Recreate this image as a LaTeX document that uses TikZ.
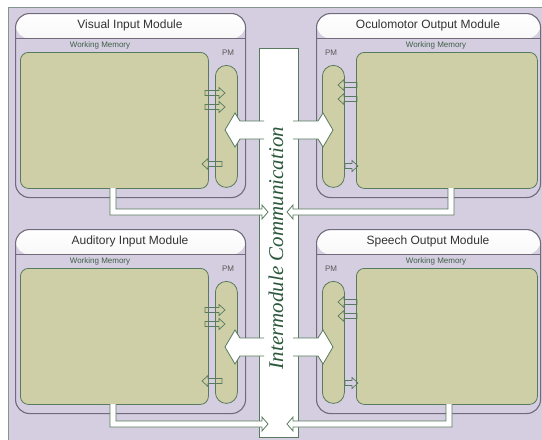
\documentclass[tikz,border=0pt]{standalone}
\usepackage{fontspec}
\setmainfont{Liberation Sans}
\newfontfamily\busfont{Liberation Serif}
\usepackage{xcolor}
\usepackage{tikz}
\usetikzlibrary{calc}

\definecolor{lavender}{RGB}{213,205,224}
\definecolor{olive}{RGB}{206,207,166}
\definecolor{linkgreen}{RGB}{88,122,94}
\definecolor{modgray}{RGB}{112,106,122}
\definecolor{textgreen}{RGB}{44,88,60}
\definecolor{frameline}{RGB}{135,150,140}

\tikzset{
    module/.style={draw=modgray, line width=1.1pt, rounded corners=14pt,
        anchor=north west, inner sep=0pt, minimum height=184pt,
        path picture={
            \shade[top color=white, bottom color=black!20]
                (path picture bounding box.north west) rectangle
                ([yshift=-25pt]path picture bounding box.north east);
            \draw[modgray, line width=1.1pt]
                ([yshift=-25pt]path picture bounding box.north west) --
                ([yshift=-25pt]path picture bounding box.north east);
        }},
    wm/.style={draw=linkgreen, fill=olive, line width=0.8pt, rounded corners=8pt,
        anchor=north west, inner sep=0pt, minimum height=136pt},
    pm/.style={draw=linkgreen, fill=olive, line width=0.8pt, rounded corners=11pt,
        anchor=north west, inner sep=0pt, minimum width=22pt, minimum height=122pt},
    bus/.style={draw=linkgreen, fill=white, line width=1pt, anchor=north west,
        inner sep=0pt, minimum width=39pt, minimum height=389pt},
    title/.style={font=\fontsize{12}{14}\selectfont, text=black!80, inner sep=0pt},
    wmtext/.style={font=\fontsize{8}{9}\selectfont, text=textgreen!80!gray, inner sep=0pt},
    pmtext/.style={font=\fontsize{8}{9}\selectfont, text=black!65, inner sep=0pt},
    link/.style={draw=linkgreen, line width=0.7pt},
    block/.style={fill=white, draw=linkgreen, line width=0.8pt}
}

% small link arrows between working memory and PM
\newcommand{\linkright}[3]{%
    \draw[link] (#1,#3-2.5) -- (#2-6,#3-2.5) -- (#2-6,#3-5.5) -- (#2,#3)
        -- (#2-6,#3+5.5) -- (#2-6,#3+2.5) -- (#1,#3+2.5) -- cycle;}
\newcommand{\linkleft}[3]{%
    \draw[link] (#2,#3-2.5) -- (#1+6,#3-2.5) -- (#1+6,#3-5.5) -- (#1,#3)
        -- (#1+6,#3+5.5) -- (#1+6,#3+2.5) -- (#2,#3+2.5) -- cycle;}

\begin{document}
\begin{tikzpicture}[x=1pt, y=-1pt]
    \useasboundingbox (0,0) rectangle (542,440);

    % background
    \fill[lavender] (8,7) rectangle (550,450);
    \draw[frameline, line width=0.8pt] (8,450) -- (8,7) -- (550,7);

    % communication bus
    \node[bus] (bus) at (259,48) {};

    % modules
    \node[module, minimum width=230pt] (visMod) at (15,13) {};
    \node[module, minimum width=224pt] (ocuMod) at (316,13) {};
    \node[module, minimum width=230pt] (audMod) at (15,229) {};
    \node[module, minimum width=224pt] (spkMod) at (316,229) {};

    \node[title] (visTitle) at (130,25.5) {Visual Input Module};
    \node[title] (ocuTitle) at (428,25.5) {Oculomotor Output Module};
    \node[title] (audTitle) at (130,241.5) {Auditory Input Module};
    \node[title] (spkTitle) at (428,241.5) {Speech Output Module};

    % working memories
    \node[wm, minimum width=188pt] (visWM) at (20,52) {};
    \node[wm, minimum width=181pt] (ocuWM) at (356,52) {};
    \node[wm, minimum width=188pt] (audWM) at (20,268) {};
    \node[wm, minimum width=181pt] (spkWM) at (356,268) {};

    \node[wmtext] (visWMText) at (100,45) {Working Memory};
    \node[wmtext] (ocuWMText) at (436,45) {Working Memory};
    \node[wmtext] (audWMText) at (100,261) {Working Memory};
    \node[wmtext] (spkWMText) at (436,261) {Working Memory};

    % perceptual-motor parts
    \node[pm] (visPM) at (215,65) {};
    \node[pm] (ocuPM) at (322,65) {};
    \node[pm] (audPM) at (215,281) {};
    \node[pm] (spkPM) at (322,281) {};

    \node[pmtext] (visPMText) at (228,53) {PM};
    \node[pmtext] (ocuPMText) at (331,53) {PM};
    \node[pmtext] (audPMText) at (228,269) {PM};
    \node[pmtext] (spkPMText) at (331,269) {PM};

    % links WM <-> PM
    \linkright{205}{225}{93}
    \linkright{205}{225}{107}
    \linkleft{202}{222}{164}
    \linkleft{338}{357}{85}
    \linkleft{338}{357}{99}
    \linkright{345}{358}{166}

    \linkright{205}{225}{310}
    \linkright{205}{225}{324}
    \linkleft{202}{222}{381}
    \linkleft{338}{357}{302}
    \linkleft{338}{357}{316}
    \linkright{345}{358}{383}

    % bus -> PM
    \path[block] (264,121) -- (240,121) -- (235,113) -- (225,130) -- (235,147) -- (240,139) -- (264,139);
    \path[block] (293,121) -- (318,121) -- (323,113) -- (333,130) -- (323,147) -- (318,139) -- (293,139);
    \path[block] (264,338) -- (240,338) -- (235,330) -- (225,347) -- (235,364) -- (240,356) -- (264,356);
    \path[block] (293,338) -- (318,338) -- (323,330) -- (333,347) -- (323,364) -- (318,356) -- (293,356);

    % WM -> bus
    \path[block] (116,188) -- (116,209) -- (262,209) -- (262,205) -- (268,212) -- (262,219) -- (262,215) -- (110,215) -- (110,188);
    \path[block] (448,188) -- (448,209) -- (293,209) -- (293,205) -- (287,212) -- (293,219) -- (293,215) -- (454,215) -- (454,188);
    \path[block] (116,404) -- (116,421) -- (262,421) -- (262,417) -- (268,424) -- (262,431) -- (262,427) -- (110,427) -- (110,404);
    \path[block] (446,404) -- (446,421) -- (293,421) -- (293,417) -- (287,424) -- (293,431) -- (293,427) -- (452,427) -- (452,404);

    \node[rotate=90, inner sep=0pt, text=textgreen,
        font=\busfont\itshape\fontsize{21}{24}\selectfont] (busText) at (276,248) {Intermodule Communication};
\end{tikzpicture}
\end{document}
